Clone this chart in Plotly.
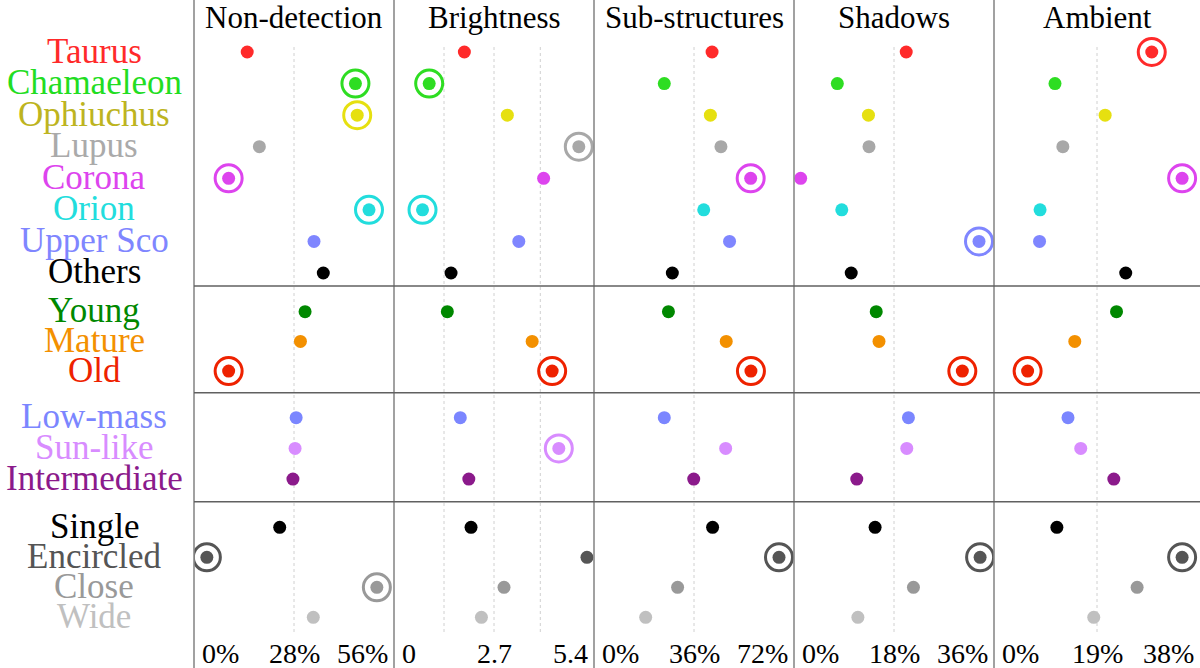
import plotly.graph_objects as go

# ---------------- data ----------------
panels = ["Non-detection", "Brightness", "Sub-structures", "Shadows", "Ambient"]

regions = ["Taurus", "Chamaeleon", "Ophiuchus", "Lupus", "Corona", "Orion", "Upper Sco", "Others"]
ages = ["Young", "Mature", "Old"]
masses = ["Low-mass", "Sun-like", "Intermediate"]
multiplicity = ["Single", "Encircled", "Close", "Wide"]
groups = [regions, ages, masses, multiplicity]

label_colors = ["#ff2a2a", "#22dd22", "#bdb420", "#aaaaaa", "#dd44ee", "#22dddd", "#7f86ff", "#000000",
                "#008800", "#f39000", "#ee2200",
                "#7b86ff", "#d88cff", "#8b1a8b",
                "#000000", "#555555", "#999999", "#c0c0c0"]
dot_colors = ["#ff2a2a", "#2edd22", "#e6e010", "#a8a8a8", "#dd44ee", "#22dddd", "#7f86ff", "#000000",
              "#008800", "#f39000", "#ee2200",
              "#7b86ff", "#d88cff", "#8b1a8b",
              "#000000", "#555555", "#999999", "#c0c0c0"]

non_detection = [14.9, 45.2, 45.7, 18.3, 9.7, 49.0, 33.6, 36.2,
                 31.1, 29.8, 9.7,
                 28.6, 28.3, 27.7,
                 24.0, 3.6, 51.2, 33.4]
brightness = [1.90, 0.95, 3.06, 4.99, 4.04, 0.77, 3.37, 1.54,
              1.44, 3.73, 4.27,
              1.79, 4.45, 2.02,
              2.08, 5.21, 2.97, 2.36]
substructures = [42.5, 25.3, 41.9, 45.7, 56.4, 39.5, 48.8, 28.2,
                 26.8, 47.6, 56.5,
                 25.3, 47.4, 35.9,
                 42.7, 66.6, 30.1, 18.6]
shadows = [20.2, 7.8, 13.4, 13.5, 1.2, 8.6, 33.3, 10.3,
           14.8, 15.3, 30.3,
           20.6, 20.3, 11.3,
           14.6, 33.5, 21.5, 11.5]
ambient = [29.1, 11.25, 20.5, 12.7, 34.7, 8.5, 8.4, 24.3,
           22.6, 14.9, 6.2,
           13.65, 16.0, 22.1,
           11.6, 34.7, 26.4, 18.4]
values = [non_detection, brightness, substructures, shadows, ambient]

circled_nondetection = ["Chamaeleon", "Ophiuchus", "Corona", "Orion", "Old", "Encircled", "Close"]
circled_brightness = ["Chamaeleon", "Lupus", "Orion", "Old", "Sun-like"]
circled_substructures = ["Corona", "Old", "Encircled"]
circled_shadows = ["Upper Sco", "Old", "Encircled"]
circled_ambient = ["Taurus", "Corona", "Old", "Encircled"]
circled = [circled_nondetection, circled_brightness, circled_substructures, circled_shadows, circled_ambient]

axis_max = [56, 5.4, 72, 36, 38]
tick_labels = [["0%", "28%", "56%"], ["0", "2.7", "5.4"], ["0%", "36%", "72%"],
               ["0%", "18%", "36%"], ["0%", "19%", "38%"]]
extra_grid_brightness = [1.35, 3.95]

# ---------------- layout constants (pixels) ----------------
W, H = 1200, 668
panel_edges = [194, 394, 594, 794, 994, 1200]
group_first_row = [52, 311.7, 417.7, 527.3]
group_spacing = [31.57, 29.7, 30.7, 30.0]
separators = [286, 392.7, 501.7]
FONT = '"Liberation Serif", "Times New Roman", Times, serif'

categories = []
row_y = []
for g, names in enumerate(groups):
    for i, n in enumerate(names):
        categories.append(n)
        row_y.append(group_first_row[g] + i * group_spacing[g])

fig = go.Figure()

for p, vals in enumerate(values):
    xa = "x" if p == 0 else f"x{p+1}"
    fig.add_trace(go.Scatter(
        x=vals, y=row_y, mode="markers", xaxis=xa, yaxis="y",
        marker=dict(size=13, color=dot_colors, line=dict(width=0)),
        showlegend=False, hoverinfo="skip"))
    cx = [v for v, c in zip(vals, categories) if c in circled[p]]
    cy = [y for y, c in zip(row_y, categories) if c in circled[p]]
    cc = [col for col, c in zip(dot_colors, categories) if c in circled[p]]
    fig.add_trace(go.Scatter(
        x=cx, y=cy, mode="markers", xaxis=xa, yaxis="y",
        marker=dict(size=27, symbol="circle-open", color=cc, line=dict(width=3, color=cc)),
        showlegend=False, hoverinfo="skip"))

layout = dict(
    width=W, height=H, margin=dict(l=0, r=0, t=0, b=0),
    paper_bgcolor="white", plot_bgcolor="white",
    font=dict(family=FONT),
    yaxis=dict(range=[H, 0], domain=[0, 1], visible=False, fixedrange=True),
)
for p in range(5):
    key = "xaxis" if p == 0 else f"xaxis{p+1}"
    layout[key] = dict(domain=[panel_edges[p] / W, panel_edges[p + 1] / W],
                       range=[0, axis_max[p]], visible=False, anchor="y")
fig.update_layout(**layout)

shapes = []
# gridlines
for p in range(5):
    xr = "x" if p == 0 else f"x{p+1}"
    gl = [axis_max[p] / 2]
    if p == 1:
        gl = extra_grid_brightness[:1] + gl + extra_grid_brightness[1:]
    for g in gl:
        shapes.append(dict(type="line", xref=xr, yref="y", x0=g, x1=g, y0=47, y1=633,
                           line=dict(color="#d0d0d0", width=1, dash="dot"), layer="below"))
# panel borders
for p in range(5):
    shapes.append(dict(type="line", xref="paper", yref="y", x0=panel_edges[p] / W, x1=panel_edges[p] / W,
                       y0=0, y1=H, line=dict(color="#8a8a8a", width=1.6)))
# group separators
for s in separators:
    shapes.append(dict(type="line", xref="paper", yref="y", x0=panel_edges[0] / W, x1=1,
                       y0=s, y1=s, line=dict(color="#606060", width=1.4)))
fig.update_layout(shapes=shapes)

ann = []
for p, title in enumerate(panels):
    ann.append(dict(text=title, xref="paper", yref="y",
                    x=(panel_edges[p] + panel_edges[p + 1]) / 2 / W, y=17,
                    showarrow=False, xanchor="center", yanchor="middle",
                    font=dict(family=FONT, size=31, color="black")))
    xr = "x" if p == 0 else f"x{p+1}"
    for j, (tv, anc) in enumerate(zip([0, axis_max[p] / 2, axis_max[p]], ["left", "center", "right"])):
        shift = 6 if anc == "left" else (-4 if anc == "right" else 0)
        ann.append(dict(text=tick_labels[p][j], xref=xr, yref="y", x=tv, y=653,
                        showarrow=False, xanchor=anc, yanchor="middle", xshift=shift,
                        font=dict(family=FONT, size=28, color="black")))
for name, y, col in zip(categories, row_y, label_colors):
    ann.append(dict(text=name, xref="paper", yref="y", x=94 / W, y=y - 1,
                    showarrow=False, xanchor="center", yanchor="middle",
                    font=dict(family=FONT, size=35, color=col)))
fig.update_layout(annotations=ann)

fig.write_html("out.html")
